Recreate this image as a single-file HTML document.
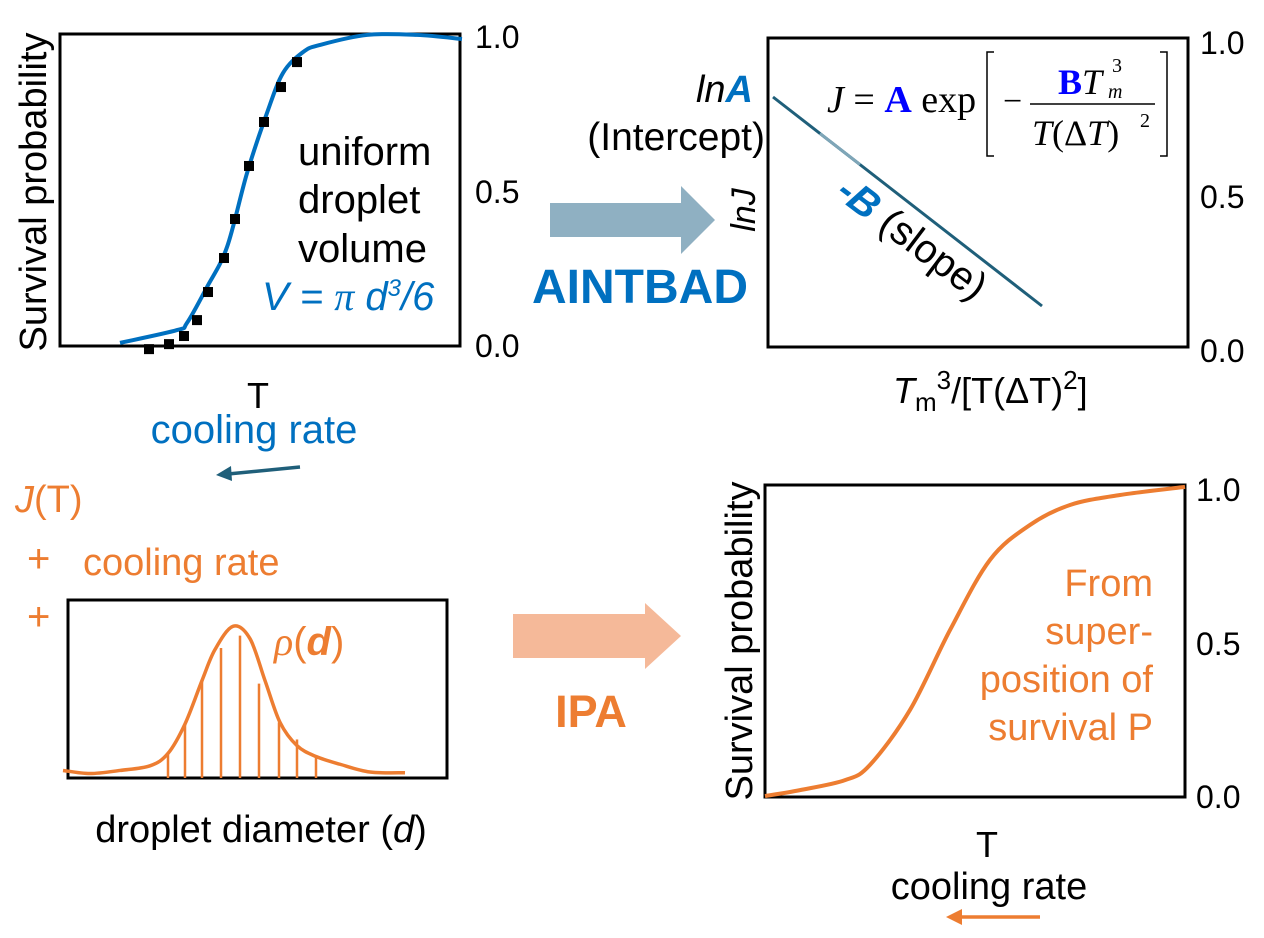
<!DOCTYPE html>
<html><head><meta charset="utf-8"><style>
html,body{margin:0;padding:0;background:#fff;}
svg{display:block;font-family:"Liberation Sans",Arial,sans-serif;}
</style></head><body>
<svg width="1264" height="938" viewBox="0 0 1264 938">
<!-- Top-left panel -->
<g>
<rect x="60" y="34" width="400" height="312" fill="none" stroke="#000" stroke-width="3"/>
<text x="475" y="48" font-size="32">1.0</text>
<text x="475" y="203" font-size="32">0.5</text>
<text x="475" y="357" font-size="32">0.0</text>
<text transform="translate(46,192) rotate(-90)" text-anchor="middle" font-size="38">Survival probability</text>
<path id="curve1" fill="none" stroke="#0070c0" stroke-width="4"/>
<g id="pts1"></g>
<g font-size="40">
<text x="298" y="165">uniform</text>
<text x="298" y="213">droplet</text>
<text x="298" y="262">volume</text>
<text x="262" y="310" fill="#0070c0" font-style="italic">V = <tspan font-family="Liberation Serif">π</tspan> d<tspan font-size="24" dy="-14">3</tspan><tspan dy="14">/6</tspan></text>
</g>
<text x="258" y="408" font-size="36" text-anchor="middle">T</text>
<text x="254" y="443" font-size="40" fill="#0070c0" text-anchor="middle">cooling rate</text>
<line x1="300" y1="467" x2="228" y2="474" stroke="#1f5f7a" stroke-width="3.5"/>
<polygon points="216,475 231,466 232,481" fill="#1f5f7a"/>
</g>

<!-- AINTBAD arrow -->
<polygon points="550,203 681,203 681,186 715,220 681,254 681,237 550,237" fill="#8fb0c2"/>
<text x="748" y="303" font-size="48" font-weight="bold" fill="#0070c0" text-anchor="end">AINTBAD</text>

<!-- Top-right panel -->
<g>
<rect x="768" y="38" width="420" height="309" fill="none" stroke="#000" stroke-width="3"/>
<text x="1200" y="54" font-size="32">1.0</text>
<text x="1200" y="208" font-size="32">0.5</text>
<text x="1200" y="362" font-size="32">0.0</text>
<line x1="773" y1="97" x2="1042" y2="306" stroke="#1f5f7a" stroke-width="3"/>
<line x1="820" y1="133.5" x2="860" y2="164.5" stroke="#7fa6b8" stroke-width="3"/>
<text transform="translate(755,210) rotate(-90)" text-anchor="middle" font-size="34" font-style="italic">lnJ</text>
<text x="753" y="102" text-anchor="end" font-size="38" font-style="italic">ln<tspan fill="#0070c0" font-weight="bold">A</tspan></text>
<text x="765" y="150" text-anchor="end" font-size="39">(Intercept)</text>
<text transform="translate(834,196) rotate(37)" font-size="40"><tspan fill="#0070c0" font-weight="bold" font-style="italic">-B</tspan> (slope)</text>
<g font-family="Liberation Serif,serif">
<text x="827" y="112" font-size="38"><tspan font-style="italic">J</tspan> = <tspan fill="#0000ff" font-weight="bold">A</tspan> exp</text>
<path d="M994,52 h-7 v104 h7 M1160,52 h7 v104 h-7" fill="none" stroke="#000" stroke-width="1.5"/>
<text x="1003" y="112" font-size="34">−</text>
<text x="1058" y="94" font-size="36"><tspan fill="#0000ff" font-weight="bold">B</tspan><tspan font-style="italic">T</tspan></text>
<text x="1112" y="72" font-size="20">3</text>
<text x="1108" y="98" font-size="20" font-style="italic">m</text>
<line x1="1030" y1="104" x2="1155" y2="104" stroke="#000" stroke-width="1.5"/>
<text x="1032" y="145" font-size="36"><tspan font-style="italic">T</tspan>(Δ<tspan font-style="italic">T</tspan>)</text>
<text x="1140" y="127" font-size="20">2</text>
</g>
<text x="893" y="403" font-size="36"><tspan font-style="italic">T</tspan><tspan font-size="26" dy="8">m</tspan><tspan font-size="26" dy="-22">3</tspan><tspan dy="14">/[T(ΔT)</tspan><tspan font-size="26" dy="-14">2</tspan><tspan dy="14">]</tspan></text>
</g>

<!-- Bottom-left -->
<g fill="#ed7d31" font-size="38">
<text x="15" y="512"><tspan font-style="italic">J</tspan>(T)</text>
<text x="27" y="572" font-size="40">+</text>
<text x="83" y="575">cooling rate</text>
<text x="27" y="630" font-size="40">+</text>
</g>
<g>
<rect x="68" y="600" width="379" height="178" fill="none" stroke="#000" stroke-width="3"/>
<g id="bars"></g>
<path id="gauss" fill="none" stroke="#ed7d31" stroke-width="3.5"/>
<text x="274" y="655" font-size="40" fill="#ed7d31"><tspan font-family="Liberation Serif" font-style="italic">ρ</tspan>(<tspan font-style="italic" font-weight="bold">d</tspan>)</text>
<text x="261" y="842" font-size="38" text-anchor="middle">droplet diameter (<tspan font-style="italic">d</tspan>)</text>
</g>

<!-- IPA arrow -->
<polygon points="513,614 645,614 645,603 681,636 645,669 645,658 513,658" fill="#f5b999"/>
<text x="591" y="727" font-size="45" font-weight="bold" fill="#ed7d31" text-anchor="middle">IPA</text>

<!-- Bottom-right -->
<g>
<rect x="765" y="485" width="420" height="312" fill="none" stroke="#000" stroke-width="3"/>
<text x="1196" y="501" font-size="32">1.0</text>
<text x="1196" y="655" font-size="32">0.5</text>
<text x="1196" y="808" font-size="32">0.0</text>
<text transform="translate(752,641) rotate(-90)" text-anchor="middle" font-size="38">Survival probability</text>
<path id="curve2" fill="none" stroke="#ed7d31" stroke-width="4"/>
<g fill="#ed7d31" font-size="38" text-anchor="end">
<text x="1153" y="596">From</text>
<text x="1153" y="644">super-</text>
<text x="1153" y="692">position of</text>
<text x="1153" y="740">survival P</text>
</g>
<text x="987" y="857" font-size="36" text-anchor="middle">T</text>
<text x="989" y="899" font-size="38" text-anchor="middle">cooling rate</text>
<line x1="1040" y1="917" x2="960" y2="917" stroke="#ed7d31" stroke-width="3.5"/>
<polygon points="946,917 962,909 962,925" fill="#ed7d31"/>
</g>
</svg>
<script>
// Top-left survival data (x in px-domain temperature, p probability)
const fitX = [120,177,187,207,227,247,267,283,303,320,367,417,462];
const fitP = [0.01,0.051,0.074,0.189,0.317,0.554,0.747,0.875,0.942,0.965,0.997,0.997,0.984];
const ptX = [149,169,184,197,208,224,235,249,264,281,297];
const ptP = [-0.01,0.006,0.032,0.083,0.173,0.282,0.407,0.577,0.718,0.83,0.91];
// Distribution
const gX = [63,90,120,150,168,185,202,215,233,250,265,280,297,316,340,370,405];
const gY = [0.01,-0.01,0.01,0.04,0.12,0.31,0.59,0.79,0.94,0.86,0.59,0.32,0.17,0.10,0.05,0.00,-0.005];
const binX = [168,185,202,221,240,259,279,297,316];
const binH = [0.12,0.31,0.59,0.80,0.88,0.57,0.32,0.21,0.10];
// Bottom-right survival
const sX = [765,800,845,870,910,950,990,1030,1070,1120,1185];
const sP = [0.003,0.022,0.054,0.103,0.279,0.535,0.760,0.872,0.936,0.968,0.994];

const NS = "http://www.w3.org/2000/svg";
function y1(p){return 346-312*p;}
function y2(v){return 772-155*v;}
function y3(p){return 797-312*p;}
function smooth(xs,ys){
  let d="M"+xs[0]+","+ys[0];
  for(let i=0;i<xs.length-1;i++){
    const x0=xs[Math.max(i-1,0)],y0=ys[Math.max(i-1,0)],x1=xs[i],yy1=ys[i],x2=xs[i+1],yy2=ys[i+1],x3=xs[Math.min(i+2,xs.length-1)],y3_=ys[Math.min(i+2,xs.length-1)];
    d+=" C"+(x1+(x2-x0)/6)+","+(yy1+(yy2-y0)/6)+" "+(x2-(x3-x1)/6)+","+(yy2-(y3_-yy1)/6)+" "+x2+","+yy2;
  }
  return d;
}
document.getElementById('curve1').setAttribute('d',smooth(fitX,fitP.map(y1)));
const g1=document.getElementById('pts1');
ptX.forEach((x,i)=>{
  const r=document.createElementNS(NS,'rect');
  r.setAttribute('x',x-5);r.setAttribute('y',y1(ptP[i])-5);
  r.setAttribute('width',10);r.setAttribute('height',10);r.setAttribute('fill','#000');
  
  
  g1.appendChild(r);
});
document.getElementById('gauss').setAttribute('d',smooth(gX,gY.map(y2)));
const gb=document.getElementById('bars');
binX.forEach((x,i)=>{
  const l=document.createElementNS(NS,'line');
  l.setAttribute('x1',x);l.setAttribute('x2',x);
  l.setAttribute('y1',y2(binH[i]));l.setAttribute('y2',y2(0)+6);
  l.setAttribute('stroke','#ed7d31');l.setAttribute('stroke-width','2.5');
  
  
  gb.appendChild(l);
});
document.getElementById('curve2').setAttribute('d',smooth(sX,sP.map(y3)));
</script>
</body></html>
